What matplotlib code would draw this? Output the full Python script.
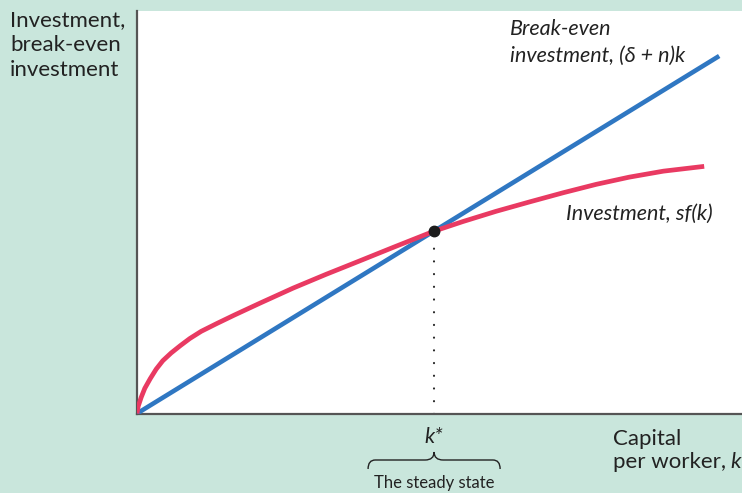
import matplotlib
matplotlib.use('Agg')
import matplotlib.pyplot as plt
import matplotlib.transforms as mtrans
from matplotlib.path import Path
from matplotlib.patches import PathPatch

#----------- Data -----------#
# investment curve sf(k)
k_inv = [0, 0.02, 0.07, 0.13, 0.22, 0.32, 0.43, 0.57, 0.72, 0.88, 1.07, 1.33,
         1.62, 2.05, 2.6, 3.15, 3.7, 4.27, 4.95, 5.43, 5.98, 6.55, 7.1, 7.65,
         8.2, 8.77, 9.45]
sf_k = [0, 0.12, 0.27, 0.42, 0.58, 0.74, 0.88, 1.01, 1.13, 1.25, 1.37, 1.5,
        1.64, 1.84, 2.09, 2.32, 2.54, 2.77, 3.04, 3.2, 3.37, 3.53, 3.68, 3.82,
        3.94, 4.04, 4.12]
# break-even line (delta + n) k
k_be = [0, 9.7]
be_k = [0, 5.96]
# steady state
k_star = 4.95
inv_star = 3.04

bg = '#c9e6dc'
blue = '#2f77c2'
red = '#e93a62'
txt = '#222222'
plt.rcParams['font.family'] = ['Lato', 'DejaVu Sans']

fig = plt.figure(figsize=(7.42, 4.93), dpi=100, facecolor=bg)
ax = fig.add_axes([137/742, (493-413.5)/493, 605/742, 402.5/493])
ax.set_facecolor('white')
ax.set_xlim(0, 10.08)
ax.set_ylim(0, 6.71)

ax.plot(k_be, be_k, color=blue, lw=3.3, solid_capstyle='butt', zorder=3)
ax.plot(k_inv, sf_k, color=red, lw=3.4, solid_capstyle='butt',
        solid_joinstyle='round', zorder=4)
ax.plot([k_star, k_star], [0, inv_star], color=txt, lw=1.5,
        linestyle=(0, (0.1, 6)), dash_capstyle='round', zorder=2)
ax.plot([k_star], [inv_star], 'o', color='#1c1c1c', ms=7.5, zorder=5)

#Spines
for s in ['top', 'right']:
    ax.spines[s].set_visible(False)
for s in ['left', 'bottom']:
    ax.spines[s].set_color('#555555')
    ax.spines[s].set_linewidth(1.6)
ax.set_xticks([])
ax.set_yticks([])

#Labels (one text per line, baseline positions in pixels from the top)
def label(x, y, s, **kw):
    fig.text(x/742, 1-y/493, s, color=txt, va='baseline', **kw)

label(10, 26, 'Investment,', fontsize=16)
label(10, 51, 'break-even', fontsize=16)
label(10, 76, 'investment', fontsize=16)
label(510, 35, 'Break-even', fontsize=15.5, style='italic')
label(510, 62, 'investment, (δ + n)k', fontsize=15.5, style='italic')
label(566, 220, 'Investment, sf(k)', fontsize=15.5, style='italic')
label(613, 445, 'Capital', fontsize=16)
label(613, 468, 'per worker,', fontsize=16)
label(730, 468, 'k', fontsize=16, style='italic')

tr = mtrans.blended_transform_factory(ax.transData, fig.transFigure)
fig.text(k_star, 1-443/493, 'k*', transform=tr, fontsize=15.5, style='italic',
         color=txt, ha='center', va='baseline')
fig.text(k_star, 1-488/493, 'The steady state', transform=tr, fontsize=12,
         color=txt, ha='center', va='baseline')

#Brace under k*
w = 66/60
y0 = 1-469/493
ym = 1-460/493
yt = 1-452/493
verts = [(k_star-w, y0), (k_star-w, ym), (k_star-w+0.12, ym),
         (k_star-0.15, ym), (k_star, ym), (k_star, yt),
         (k_star, ym), (k_star+0.15, ym),
         (k_star+w-0.12, ym), (k_star+w, ym), (k_star+w, y0)]
codes = [Path.MOVETO, Path.CURVE3, Path.CURVE3,
         Path.LINETO, Path.CURVE3, Path.CURVE3,
         Path.CURVE3, Path.CURVE3,
         Path.LINETO, Path.CURVE3, Path.CURVE3]
brace = PathPatch(Path(verts, codes), transform=tr, fill=False, lw=1.0,
                  edgecolor=txt, clip_on=False)
fig.patches.append(brace)

plt.savefig('out.png', dpi=100, facecolor=bg)
